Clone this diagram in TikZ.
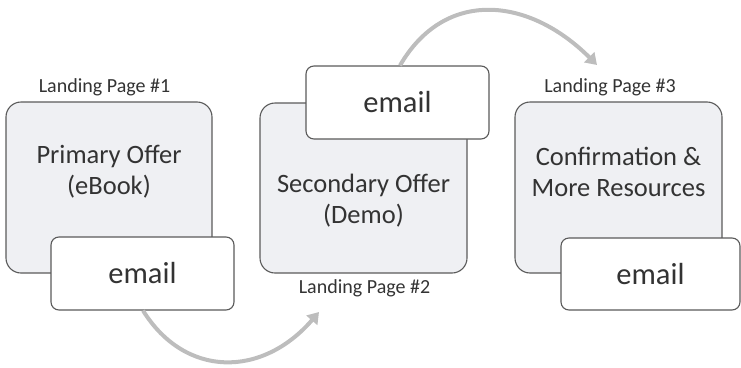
\documentclass[tikz,border=0pt]{standalone}
\usepackage{fontspec}
\setmainfont{Carlito}
\usetikzlibrary{arrows.meta}
\definecolor{boxfill}{HTML}{EFF0F3}
\definecolor{boxline}{HTML}{5A5A5A}
\definecolor{arrowgray}{HTML}{BDBDBD}
\definecolor{txt}{HTML}{333333}
\tikzset{
  pagebox/.style={draw=boxline, fill=boxfill, line width=1.1pt, rounded corners=15pt, inner sep=0pt},
  mailbox/.style={draw=boxline, fill=white, line width=1.1pt, rounded corners=8pt, inner sep=0pt,
    font=\fontsize{30.5}{34}\selectfont, text=txt},
  maintext/.style={align=center, font=\fontsize{26.5}{31}\selectfont, text=txt},
  pagelabel/.style={font=\fontsize{20}{23}\selectfont, text=txt},
  flow/.style={draw=arrowgray, line width=4pt, -{Triangle[length=11pt,width=14pt]}}
}
\begin{document}
\begin{tikzpicture}[x=1pt,y=-1pt]
\useasboundingbox (0,0) rectangle (741,367);
% page 1
\node[pagebox, minimum width=206pt, minimum height=171pt] (b1) at (109,187.5) {};
\node[maintext] (t1) at (109,172) {Primary Offer\\(eBook)};
\node[mailbox, minimum width=183pt, minimum height=73pt] (e1) at (142.5,273.5) {email};
\node[pagelabel] (l1) at (104.5,87.5) {Landing Page \#1};
% page 2
\node[pagebox, minimum width=207pt, minimum height=170pt] (b2) at (363.5,188) {};
\node[maintext] (t2) at (363.5,201) {Secondary Offer\\(Demo)};
\node[mailbox, minimum width=183pt, minimum height=73pt] (e2) at (397.5,102.5) {email};
\node[pagelabel] (l2) at (364.5,288) {Landing Page \#2};
% page 3
\node[pagebox, minimum width=207pt, minimum height=171pt] (b3) at (618.5,187.5) {};
\node[maintext] (t3) at (618.5,172) {Confirmation \&\\More Resources};
\node[mailbox, minimum width=179pt, minimum height=72pt] (e3) at (650.5,274) {email};
\node[pagelabel] (l3) at (610,87.5) {Landing Page \#3};
% arrows
\coordinate (a1) at (319,312);
\coordinate (a2) at (597,65);
\draw[flow] ([xshift=0.5pt]e1.south) .. controls (185,378) and (262,378) .. (a1);
\draw[flow] ([xshift=2.5pt]e2.north) .. controls (445,-12) and (529,-3) .. (a2);
\end{tikzpicture}
\end{document}
